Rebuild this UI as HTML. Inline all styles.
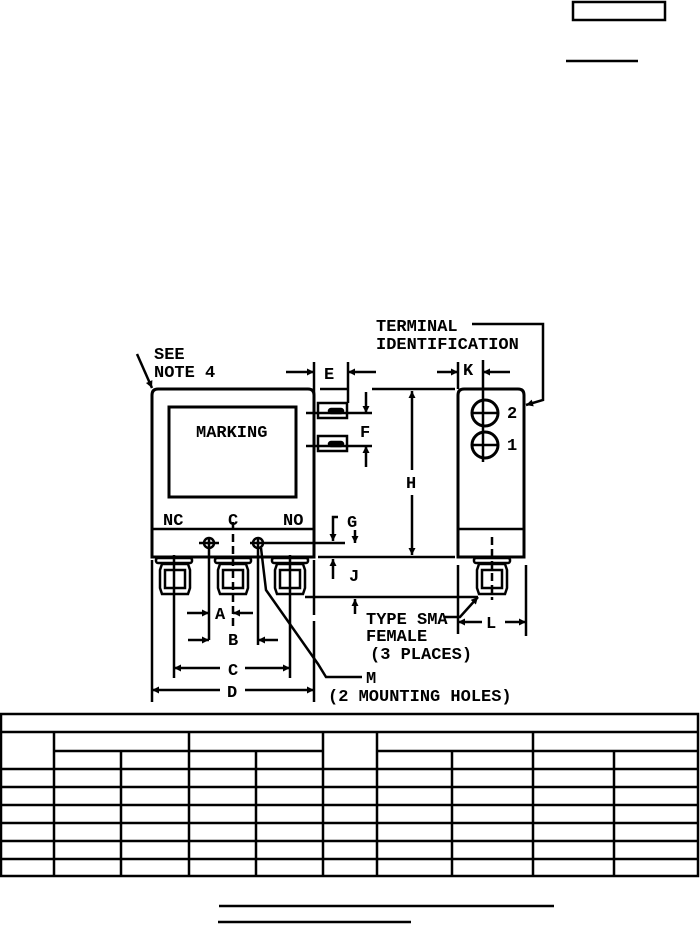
<!DOCTYPE html>
<html><head><style>
html,body{margin:0;padding:0;background:#fff;}
svg{display:block;}
text{font-family:"Liberation Mono",monospace;font-weight:bold;font-size:17px;fill:#000;}
</style></head><body>
<svg width="700" height="925" viewBox="0 0 700 925" xmlns="http://www.w3.org/2000/svg">
<defs>
<marker id="a" viewBox="0 0 10 10" refX="10" refY="5" markerWidth="10" markerHeight="7" orient="auto-start-reverse" markerUnits="userSpaceOnUse"><path d="M0,0 L10,5 L0,10 z" fill="#000"/></marker>
</defs>
<g stroke="#000" fill="none" stroke-width="2.5">
<rect x="573" y="2" width="92" height="18"/>
<line x1="566" y1="61" x2="638" y2="61"/>

<path d="M152,557 L152,395 Q152,389 158,389 L308,389 Q314,389 314,395 L314,557 Z" stroke-width="3"/>
<line x1="152" y1="529" x2="314" y2="529"/>
<rect x="169" y="407" width="127" height="90" stroke-width="3"/>
<circle cx="209" cy="543" r="5"/><line x1="199" y1="543" x2="219" y2="543"/><line x1="209" y1="537" x2="209" y2="640"/>
<circle cx="258" cy="543" r="5"/><line x1="250" y1="543" x2="345" y2="543"/><line x1="258" y1="537" x2="258" y2="645"/>
<line x1="233" y1="522" x2="233" y2="628" stroke-dasharray="8,4"/>
<g stroke-width="2.5">
<rect x="156" y="558" width="36" height="5" rx="2"/><path d="M162,564 L188,564 L190,570 L190,588 L188,594 L162,594 L160,588 L160,570 Z"/><rect x="165" y="570" width="20" height="18"/>
<rect x="215" y="558" width="36" height="5" rx="2"/><path d="M220,564 L246,564 L248,570 L248,588 L246,594 L220,594 L218,588 L218,570 Z"/><rect x="223" y="570" width="20" height="18"/>
<rect x="272" y="558" width="36" height="5" rx="2"/><path d="M277,564 L303,564 L305,570 L305,588 L303,594 L277,594 L275,588 L275,570 Z"/><rect x="280" y="570" width="20" height="18"/>
<rect x="474" y="558" width="36" height="5" rx="2"/><path d="M479,564 L505,564 L507,570 L507,588 L505,594 L479,594 L477,588 L477,570 Z"/><rect x="482" y="570" width="20" height="18"/>
</g>
<line x1="174" y1="555" x2="174" y2="678"/>
<line x1="290" y1="555" x2="290" y2="678"/>
<line x1="492" y1="537" x2="492" y2="600" stroke-dasharray="8,4"/>
<path d="M458,557 L458,395 Q458,389 464,389 L518,389 Q524,389 524,395 L524,557 Z" stroke-width="3"/>
<line x1="458" y1="529" x2="524" y2="529"/>
<circle cx="485" cy="413" r="13" stroke-width="3"/><circle cx="485" cy="445" r="13" stroke-width="3"/>
<line x1="471" y1="413" x2="499" y2="413"/><line x1="471" y1="445" x2="499" y2="445"/>
<line x1="483" y1="360" x2="483" y2="462"/>
<rect x="318" y="403" width="29" height="15"/><rect x="318" y="436" width="29" height="15"/>
<rect x="329" y="409" width="14" height="4" rx="2" fill="#000"/><rect x="329" y="442" width="14" height="4" rx="2" fill="#000"/>
<line x1="306" y1="413" x2="372" y2="413"/><line x1="306" y1="446" x2="372" y2="446"/>
<line x1="314" y1="362" x2="314" y2="395"/><line x1="348" y1="362" x2="348" y2="403"/>
<line x1="286" y1="372" x2="314" y2="372" marker-end="url(#a)"/><line x1="376" y1="372" x2="348" y2="372" marker-end="url(#a)"/>
<line x1="458" y1="362" x2="458" y2="389"/>
<line x1="437" y1="372" x2="458" y2="372" marker-end="url(#a)"/><line x1="510" y1="372" x2="483" y2="372" marker-end="url(#a)"/>
<line x1="320" y1="389" x2="348" y2="389"/><line x1="372" y1="389" x2="455" y2="389"/>
<line x1="318" y1="557" x2="455" y2="557"/>
<line x1="412" y1="470" x2="412" y2="391" marker-end="url(#a)"/><line x1="412" y1="495" x2="412" y2="555" marker-end="url(#a)"/>
<line x1="366" y1="392" x2="366" y2="413" marker-end="url(#a)"/><line x1="366" y1="467" x2="366" y2="446" marker-end="url(#a)"/>
<path d="M338,517 L333,517 L333,541" marker-end="url(#a)"/>
<line x1="355" y1="530" x2="355" y2="543" marker-end="url(#a)"/>
<line x1="333" y1="579" x2="333" y2="559" marker-end="url(#a)"/>
<line x1="305" y1="597" x2="478" y2="597"/>
<line x1="355" y1="614" x2="355" y2="599" marker-end="url(#a)"/>
<line x1="187" y1="613" x2="209" y2="613" marker-end="url(#a)"/><line x1="253" y1="613" x2="233" y2="613" marker-end="url(#a)"/>
<line x1="188" y1="640" x2="209" y2="640" marker-end="url(#a)"/><line x1="278" y1="640" x2="258" y2="640" marker-end="url(#a)"/>
<line x1="220" y1="668" x2="174" y2="668" marker-end="url(#a)"/><line x1="245" y1="668" x2="290" y2="668" marker-end="url(#a)"/>
<line x1="152" y1="560" x2="152" y2="702"/><line x1="314" y1="560" x2="314" y2="702" stroke-dasharray="55,6,200"/>
<line x1="220" y1="690" x2="152" y2="690" marker-end="url(#a)"/><line x1="245" y1="690" x2="314" y2="690" marker-end="url(#a)"/>
<line x1="458" y1="565" x2="458" y2="634"/><line x1="526" y1="565" x2="526" y2="636"/>
<line x1="482" y1="622" x2="458" y2="622" marker-end="url(#a)"/><line x1="505" y1="622" x2="526" y2="622" marker-end="url(#a)"/>
<path d="M261,548 L266,590 L318,664 L326,677 L362,677"/>
<path d="M444,617 L460,617 L478,597" marker-end="url(#a)"/>
<path d="M472,324 L543,324 L543,400 L526,405" marker-end="url(#a)"/>
<line x1="137" y1="354" x2="152" y2="388" marker-end="url(#a)"/>

<g stroke-width="2.5">
<rect x="1" y="714" width="697" height="162"/>
<line x1="1" y1="732" x2="698" y2="732"/>
<line x1="54" y1="751" x2="323" y2="751"/><line x1="377" y1="751" x2="698" y2="751"/>
<line x1="1" y1="769" x2="698" y2="769"/>
<line x1="1" y1="787" x2="698" y2="787"/>
<line x1="1" y1="805" x2="698" y2="805"/>
<line x1="1" y1="823" x2="698" y2="823"/>
<line x1="1" y1="841" x2="698" y2="841"/>
<line x1="1" y1="859" x2="698" y2="859"/>
<line x1="54" y1="732" x2="54" y2="876"/>
<line x1="121" y1="751" x2="121" y2="876"/>
<line x1="189" y1="732" x2="189" y2="876"/>
<line x1="256" y1="751" x2="256" y2="876"/>
<line x1="323" y1="732" x2="323" y2="876"/>
<line x1="377" y1="732" x2="377" y2="876"/>
<line x1="452" y1="751" x2="452" y2="876"/>
<line x1="533" y1="732" x2="533" y2="876"/>
<line x1="614" y1="751" x2="614" y2="876"/>
</g>
<line x1="219" y1="906" x2="554" y2="906"/>
<line x1="218" y1="922" x2="411" y2="922"/>
</g>

<text x="154" y="359">SEE</text>
<text x="154" y="377">NOTE 4</text>
<text x="376" y="331">TERMINAL</text>
<text x="376" y="349">IDENTIFICATION</text>
<text x="196" y="437">MARKING</text>
<text x="163" y="525">NC</text>
<text x="228" y="525">C</text>
<text x="283" y="525">NO</text>
<text x="324" y="379">E</text>
<text x="463" y="375">K</text>
<text x="360" y="437">F</text>
<text x="406" y="488">H</text>
<text x="347" y="527">G</text>
<text x="349" y="581">J</text>
<text x="215" y="619">A</text>
<text x="228" y="645">B</text>
<text x="228" y="675">C</text>
<text x="227" y="697">D</text>
<text x="486" y="628">L</text>
<text x="507" y="418">2</text>
<text x="507" y="450">1</text>
<text x="366" y="624">TYPE SMA</text>
<text x="366" y="641">FEMALE</text>
<text x="370" y="659">(3 PLACES)</text>
<text x="366" y="683">M</text>
<text x="328" y="701">(2 MOUNTING HOLES)</text>
</svg>
</body></html>
